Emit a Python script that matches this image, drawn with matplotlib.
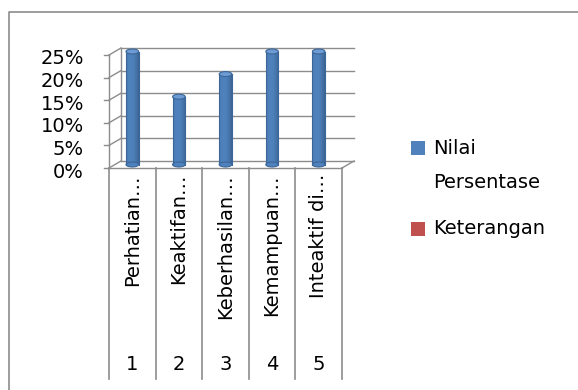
import matplotlib
matplotlib.use("Agg")
import matplotlib.pyplot as plt
import matplotlib.transforms as mtransforms
from matplotlib.patches import Ellipse, Rectangle
import numpy as np

# ---- data ----
categories = ["Perhatian…", "Keaktifan…", "Keberhasilan…", "Kemampuan…", "Inteaktif di…"]
row_numbers = ["1", "2", "3", "4", "5"]
nilai_persentase = [0.25, 0.15, 0.20, 0.25, 0.25]
y_ticks = [0.0, 0.05, 0.10, 0.15, 0.20, 0.25]
y_tick_labels = ["0%", "5%", "10%", "15%", "20%", "25%"]
legend_labels = ["Nilai\nPersentase", "Keterangan"]

FONT = "DejaVu Sans"
FS = 14
BLUE = "#4F81BD"
BLUE_DARK = "#3A6699"
BLUE_LIGHT = "#6E9BD3"
RED = "#C0504D"
GRID = "#8C8C8C"

W, H = 578, 390
fig = plt.figure(figsize=(W / 100, H / 100), dpi=100)
fig.patch.set_facecolor("white")

def px(x0, y0, w, h):
    return [x0 / W, 1 - (y0 + h) / H, w / W, h / H]

# chart frame (cut off at right/bottom as in reference)
frame = fig.add_axes([0, 0, 1, 1])
frame.set_xlim(0, W)
frame.set_ylim(H, 0)
frame.axis("off")
frame.plot([8.5, 8.5, W + 5], [H + 5, 11.5, 11.5], color=GRID, lw=1.2)

# front plane axes
ax = fig.add_axes(px(109, 55, 233, 113))
ax.set_xlim(0.5, 5.5)
ax.set_ylim(0, 0.25)
ax.axis("off")

n = len(categories)
x = np.arange(1, n + 1)
dx, dy = 12 / 100, 7 / 100
back = ax.transData + mtransforms.ScaledTranslation(dx, dy, fig.dpi_scale_trans)
mid = ax.transData + mtransforms.ScaledTranslation(0.0, 3.5 / 100, fig.dpi_scale_trans)

# back wall gridlines and side-wall diagonals
for v in y_ticks:
    ax.plot([0.5, 5.5], [v, v], color=GRID, lw=1.0, transform=back, clip_on=False)
    p0 = ax.transData.transform((0.5, v))
    p1 = back.transform((0.5, v))
    frame.plot([p0[0], p1[0]], [H - p0[1], H - p1[1]], color=GRID, lw=1.0)
    frame.plot([p0[0] - 5, p0[0]], [H - p0[1], H - p0[1]], color=GRID, lw=1.0)

# back wall left edge
ax.plot([0.5, 0.5], [0, 0.25], color=GRID, lw=1.0, transform=back, clip_on=False)
# front axis
ax.plot([0.5, 0.5], [0, 0.25], color=GRID, lw=1.0, clip_on=False)
# floor front edge and right diagonal
ax.plot([0.5, 5.5], [0, 0], color=GRID, lw=1.0, clip_on=False)
q0 = ax.transData.transform((5.5, 0))
q1 = back.transform((5.5, 0))
frame.plot([q0[0], q1[0]], [H - q0[1], H - q1[1]], color=GRID, lw=1.0)

# y tick labels
for v, lab in zip(y_ticks, y_tick_labels):
    p = ax.transData.transform((0.5, v))
    fig.text(84 / W, (p[1] - 4) / H, lab, ha="right", va="center",
             fontsize=FS, family=FONT, color="black")

# cylinder bars
bw = 0.27
ell_h = 0.011
for xi, val in zip(x, nilai_persentase):
    r = Rectangle((xi - bw / 2, 0), bw, val, facecolor=BLUE, edgecolor="none",
                  transform=mid, clip_on=False, zorder=3)
    ax.add_patch(r)
    grad = np.linspace(0, 1, 50)
    shade = 1 - 0.55 * (grad - 0.35) ** 2
    img = np.dstack([np.outer(np.ones(2), 0.31 * shade),
                     np.outer(np.ones(2), 0.51 * shade),
                     np.outer(np.ones(2), 0.74 * shade)])
    im = ax.imshow(img, extent=(xi - bw / 2, xi + bw / 2, 0, val), aspect="auto",
                   transform=mid, zorder=3, clip_on=True)
    im.set_clip_path(r)
    ax.plot([xi - bw / 2, xi - bw / 2], [0, val], color=BLUE_DARK, lw=0.8,
            transform=mid, clip_on=False, zorder=4)
    ax.plot([xi + bw / 2, xi + bw / 2], [0, val], color=BLUE_DARK, lw=0.8,
            transform=mid, clip_on=False, zorder=4)
    ax.add_patch(Ellipse((xi, 0), bw, ell_h, facecolor=BLUE, edgecolor=BLUE_DARK,
                         lw=0.8, transform=mid, clip_on=False, zorder=3))
    ax.add_patch(Ellipse((xi, val), bw, ell_h, facecolor=BLUE_LIGHT, edgecolor=BLUE_DARK,
                         lw=0.8, transform=mid, clip_on=False, zorder=5))

ax.set_xlim(0.5, 5.5)
ax.set_ylim(0, 0.25)

# data table below
blend = mtransforms.blended_transform_factory(ax.transData, frame.transData)
for b in np.arange(0.5, n + 1.0, 1.0):
    frame.plot([ax.transData.transform((b, 0))[0]] * 2, [168, 379], color=GRID, lw=1.2)
for xi, cat, num in zip(x, categories, row_numbers):
    ax.text(xi, 174, cat, rotation=90, ha="center", va="top", fontsize=FS,
            family=FONT, transform=blend, clip_on=False)
    ax.text(xi, 364, num, ha="center", va="center", fontsize=FS,
            family=FONT, transform=blend, clip_on=False)

# legend
frame.add_patch(Rectangle((411, 141), 14, 14, facecolor=BLUE, edgecolor="none"))
frame.add_patch(Rectangle((411, 222), 14, 14, facecolor=RED, edgecolor="none"))
frame.text(433, 148, "Nilai", ha="left", va="center", fontsize=FS, family=FONT)
frame.text(433, 182, "Persentase", ha="left", va="center", fontsize=FS, family=FONT)
frame.text(433, 229, "Keterangan", ha="left", va="center", fontsize=FS, family=FONT)

fig.savefig("out.png", dpi=100)
